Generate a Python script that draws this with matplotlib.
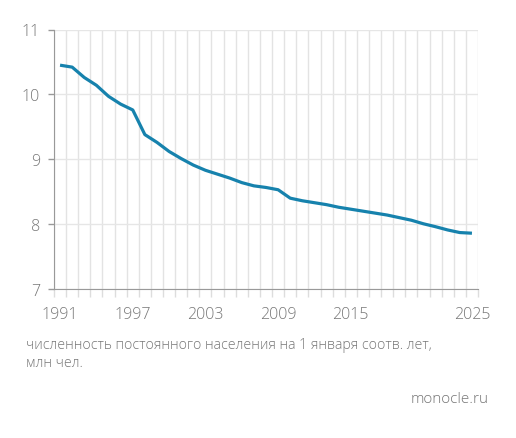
import matplotlib
matplotlib.use("Agg")
import matplotlib.pyplot as plt
import numpy as np

years = list(range(1991, 2026))
population = [10.45, 10.42, 10.26, 10.14, 9.97, 9.85, 9.76, 9.38, 9.26, 9.12,
              9.01, 8.91, 8.83, 8.77, 8.71, 8.64, 8.59, 8.565, 8.53, 8.40,
              8.36, 8.33, 8.30, 8.26, 8.23, 8.20, 8.17, 8.14, 8.10, 8.06,
              8.005, 7.96, 7.91, 7.87, 7.86]
xtick_labels = ["1991", "1997", "2003", "2009", "2015", "2025"]
yticks = [7, 8, 9, 10, 11]
caption = "численность постоянного населения на 1 января соотв. лет,\nмлн чел."
source = "monocle.ru"

plt.rcParams['font.family'] = ['Open Sans', 'DejaVu Sans']
plt.rcParams['font.weight'] = 'light'
txt = '#777777'

fig = plt.figure(figsize=(5.16, 4.39), dpi=100)
W, H = 516, 439
ax = fig.add_axes([54 / W, (H - 290) / H, (478 - 54) / W, (290 - 30.5) / H])

ax.set_xlim(years[0] - 0.5, years[-1] + 0.5)
ax.set_ylim(7, 11)

bounds = np.arange(years[0] - 0.5, years[-1] + 1.0, 1.0)
ax.set_xticks(bounds, minor=True)
ax.set_xticks([int(t) for t in xtick_labels])
ax.set_xticklabels(xtick_labels)
ax.grid(True, which='minor', axis='x', color='#e3e3e3', linewidth=1.0)
ax.set_yticks(yticks)
ax.grid(True, which='major', axis='y', color='#e6e6e6', linewidth=1.0)
ax.set_axisbelow(True)

ax.tick_params(axis='x', which='major', length=0, pad=12, labelsize=11.5, labelcolor=txt)
ax.tick_params(axis='x', which='minor', length=6, color='#dddddd', width=1.0)
ax.tick_params(axis='y', which='major', length=4, color='#999999', width=1.0,
               pad=6, labelsize=11.5, labelcolor=txt)

for s in ['top', 'right']:
    ax.spines[s].set_visible(False)
ax.spines['left'].set_color('#999999')
ax.spines['bottom'].set_color('#999999')

ax.plot(years, population, color='#1682ad', linewidth=2.3, solid_joinstyle='round',
        solid_capstyle='butt', zorder=3)

fig.text(26 / W, 1 - 338 / H, caption, ha='left', va='top', fontsize=10.2,
         color=txt, linespacing=1.3)
fig.text(489 / W, 1 - 400 / H, source, ha='right', va='center', fontsize=11,
         color=txt)

fig.savefig('out.png', dpi=100, facecolor='white')
